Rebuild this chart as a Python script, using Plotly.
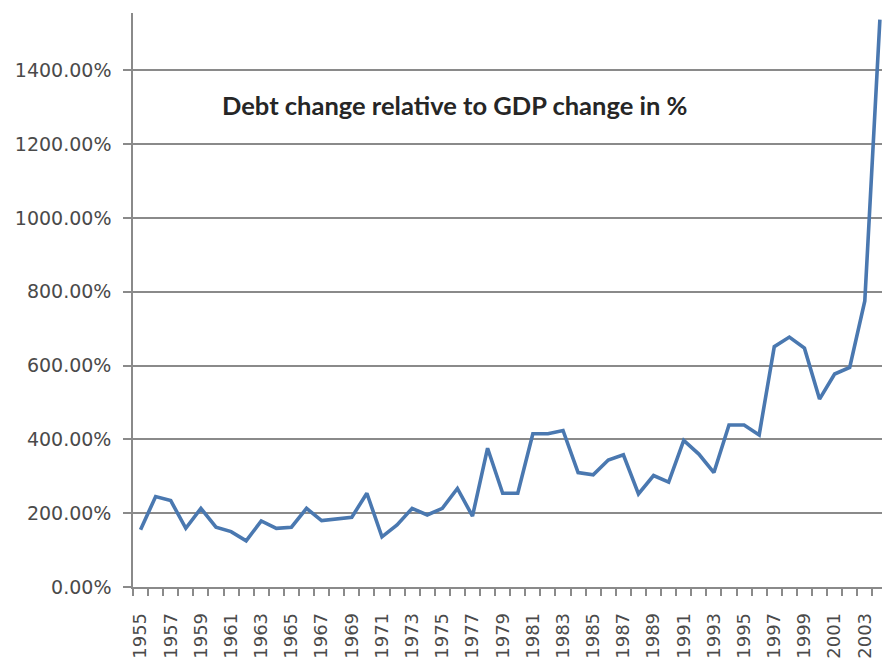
import plotly.graph_objects as go

# Years and the ratio of debt change to GDP change (percent)
years = list(range(1955, 2005))
ratio_pct = [
    155, 245, 234, 159, 213, 162, 150, 125, 179, 159,
    162, 213, 180, 184, 189, 254, 136, 168, 213, 195,
    213, 267, 192, 376, 254, 254, 415, 415, 424, 310,
    304, 344, 358, 252, 302, 284, 397, 360, 310, 439,
    439, 412, 651, 677, 647, 509, 577, 595, 775, 1537,
]
y_ticks = [0, 200, 400, 600, 800, 1000, 1200, 1400]
y_tick_text = [f"{v:.2f}%" for v in y_ticks]
x_tick_years = years[::2]

title_text = "Debt change relative to GDP change in %"

axis_grey = "#8a8a8a"
label_grey = "#4a4a4a"
y_tick_font = dict(family="DejaVu Sans", size=19, color=label_grey)
x_tick_font = dict(family="DejaVu Sans", size=18, color=label_grey)

fig = go.Figure()
fig.add_trace(go.Scatter(
    x=years,
    y=ratio_pct,
    mode="lines",
    line=dict(color="#4a78b0", width=3.6),
    hoverinfo="x+y",
    showlegend=False,
))

fig.update_xaxes(
    range=[1954.5, 2004.14],
    tickmode="array",
    tickvals=x_tick_years,
    ticktext=[str(y) for y in x_tick_years],
    tickangle=-90,
    tickfont=x_tick_font,
    ticks="",
    ticklabelstandoff=17,
    automargin=False,
    showgrid=False,
    zeroline=False,
    showline=True,
    linecolor=axis_grey,
    linewidth=1.5,
    minor=dict(
        tickmode="linear",
        tick0=1954.5,
        dtick=1,
        ticks="outside",
        ticklen=7,
        tickcolor=axis_grey,
        tickwidth=1.5,
        showgrid=False,
    ),
)

fig.update_yaxes(
    range=[0, 1555],
    tickmode="array",
    tickvals=y_ticks,
    ticktext=y_tick_text,
    tickfont=y_tick_font,
    ticks="outside",
    ticklen=8,
    tickcolor=axis_grey,
    tickwidth=1.5,
    ticklabelstandoff=8,
    automargin=False,
    showgrid=True,
    gridcolor=axis_grey,
    gridwidth=1.5,
    zeroline=False,
    showline=True,
    linecolor=axis_grey,
    linewidth=1.5,
)

fig.add_annotation(
    text=f"<b>{title_text}</b>",
    xref="paper", yref="paper",
    x=(454.5 - 133) / 749, y=(587 - 105) / 574,
    xanchor="center", yanchor="middle",
    showarrow=False,
    font=dict(family="Lato", size=25.5, color="#262626"),
)

fig.update_layout(
    width=882,
    height=661,
    margin=dict(l=133, r=0, t=13, b=74),
    paper_bgcolor="white",
    plot_bgcolor="white",
)

fig.write_html("out.html")
